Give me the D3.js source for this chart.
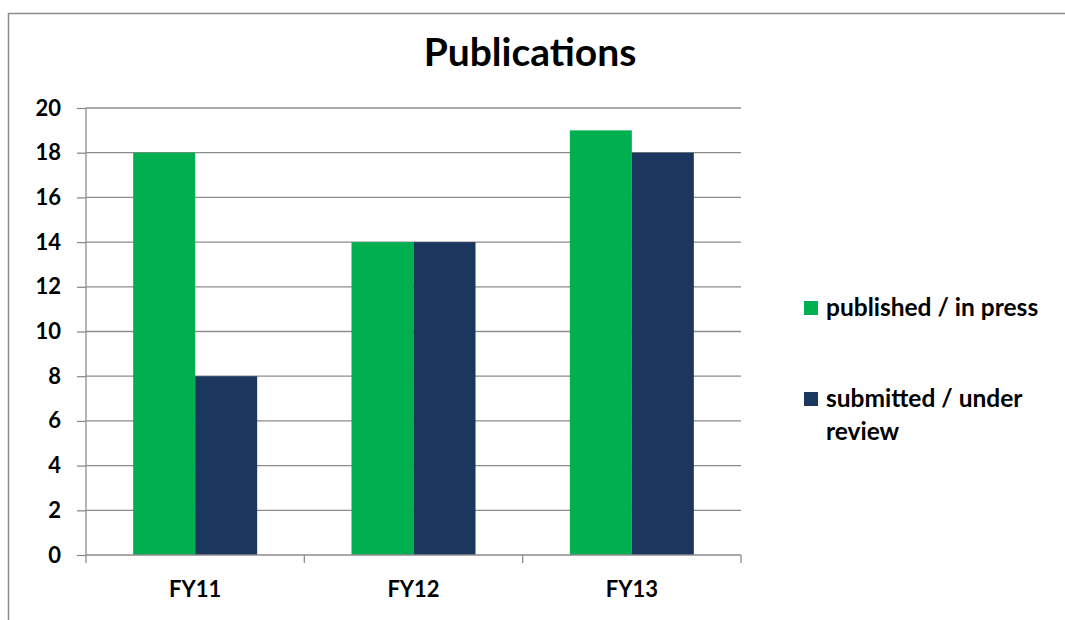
<!DOCTYPE html>
<html lang="en">
<head>
    <meta charset="UTF-8">
    <title>Publications</title>
    <script src="https://d3js.org/d3.v7.min.js"></script>
    <style>
        body { margin: 0; background: #fff; }
        svg { display: block; font-family: Lato, "Open Sans", sans-serif; font-weight: bold; }
        .grid line { stroke: #8c8c8c; stroke-width: 1.3px; }
        .axis path, .axis line { stroke: #8c8c8c; stroke-width: 1.3px; }
        .axis text { fill: #000; font-size: 22px; font-weight: bold; font-family: Lato, "Open Sans", sans-serif; }
    </style>
</head>
<body>
<svg width="1065" height="620"></svg>
<script>
    var categories = ['FY11', 'FY12', 'FY13'];
    var seriesNames = ['published / in press', 'submitted / under review'];
    var published = [18, 14, 19];
    var submitted = [8, 14, 18];
    var yTicks = [0, 2, 4, 6, 8, 10, 12, 14, 16, 18, 20];
    var colors = ['#00b050', '#1b375e'];

    var svg = d3.select('svg');

    // chart frame (runs off the right and bottom edges)
    svg.append('rect')
        .attr('x', 8.5).attr('y', 13.5)
        .attr('width', 1100).attr('height', 700)
        .attr('fill', 'none')
        .attr('stroke', '#8c8c8c')
        .attr('stroke-width', 1.5);

    var plotLeft = 86, plotRight = 741, plotTop = 108, plotBottom = 555;

    var x = d3.scaleBand()
        .domain(categories)
        .range([plotLeft, plotRight])
        .paddingInner(0.432)
        .paddingOuter(0.216);

    var sub = d3.scaleBand()
        .domain([0, 1])
        .range([0, x.bandwidth()]);

    var y = d3.scaleLinear()
        .domain([0, 20])
        .range([plotBottom, plotTop]);

    // gridlines
    svg.append('g')
        .attr('class', 'grid')
        .selectAll('line')
        .data(yTicks.slice(1))
        .enter()
        .append('line')
        .attr('x1', plotLeft).attr('x2', plotRight)
        .attr('y1', function (d) { return y(d); })
        .attr('y2', function (d) { return y(d); });

    // bars
    var rows = categories.map(function (c, i) {
        return { cat: c, values: [published[i], submitted[i]] };
    });

    var groups = svg.append('g').selectAll('g')
        .data(rows)
        .enter()
        .append('g')
        .attr('transform', function (d) { return 'translate(' + x(d.cat) + ',0)'; });

    groups.selectAll('rect')
        .data(function (d) { return d.values; })
        .enter()
        .append('rect')
        .attr('x', function (d, i) { return sub(i); })
        .attr('width', sub.bandwidth())
        .attr('y', function (d) { return y(d); })
        .attr('height', function (d) { return y(0) - y(d); })
        .attr('fill', function (d, i) { return colors[i]; });

    // y axis
    var yAxis = d3.axisLeft(y)
        .tickValues(yTicks)
        .tickSize(9)
        .tickPadding(16);

    svg.append('g')
        .attr('class', 'axis')
        .attr('transform', 'translate(' + plotLeft + ',0)')
        .call(yAxis)
        .call(function (g) { g.select('.domain').attr('d', 'M0,' + plotTop + 'V' + plotBottom); });

    // x axis with tick marks between categories
    var xLine = svg.append('g').attr('class', 'axis');
    xLine.append('path')
        .attr('d', 'M' + plotLeft + ',' + plotBottom + 'H' + plotRight)
        .attr('fill', 'none');
    var step = x.step();
    var edges = [plotLeft];
    categories.forEach(function (c) { edges.push(x(c) - x.paddingInner() * step / 2 + step); });
    edges[edges.length - 1] = plotRight;
    xLine.selectAll('line.t')
        .data(edges)
        .enter()
        .append('line')
        .attr('class', 't')
        .attr('x1', function (d) { return d; })
        .attr('x2', function (d) { return d; })
        .attr('y1', plotBottom)
        .attr('y2', plotBottom + 8);
    xLine.selectAll('text')
        .data(categories)
        .enter()
        .append('text')
        .attr('x', function (d) { return x(d) + x.bandwidth() / 2; })
        .attr('y', 597)
        .attr('text-anchor', 'middle')
        .text(function (d) { return d; });

    // title
    svg.append('text')
        .attr('x', 530)
        .attr('y', 66)
        .attr('text-anchor', 'middle')
        .style('font-size', '39px')
        .text('Publications');

    // legend
    var legendLines = [['published / in press'], ['submitted / under', 'review']];
    var legend = svg.append('g').selectAll('g')
        .data(seriesNames)
        .enter()
        .append('g')
        .attr('transform', function (d, i) { return 'translate(804,' + (i === 0 ? 301 : 392) + ')'; });

    legend.append('rect')
        .attr('width', 14).attr('height', 14)
        .attr('fill', function (d, i) { return colors[i]; });

    legend.append('text')
        .attr('x', 22)
        .attr('y', 15)
        .style('font-size', '24.5px')
        .selectAll('tspan')
        .data(function (d, i) { return legendLines[i]; })
        .enter()
        .append('tspan')
        .attr('x', 22)
        .attr('dy', function (d, j) { return j === 0 ? 0 : 33; })
        .text(function (d) { return d; });
</script>
</body>
</html>
